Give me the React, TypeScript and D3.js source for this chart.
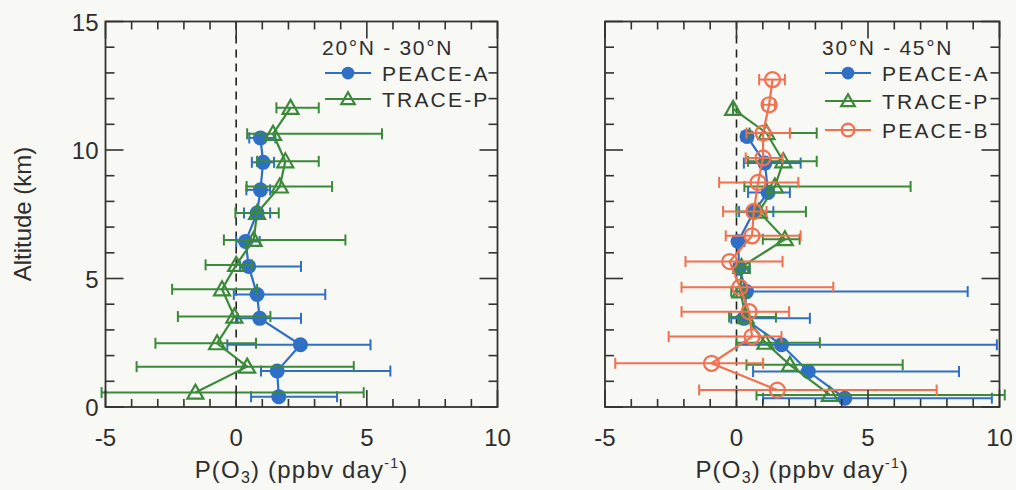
import React from "react";
import * as d3 from "d3";

// ---------- DATA ----------
// Left panel (20°N - 30°N)
const L_PA_ALT = [0.4, 1.4, 2.42, 3.45, 4.38, 5.47, 6.44, 7.55, 8.45, 9.52, 10.47];
const L_PA_VAL = [1.63, 1.57, 2.46, 0.9, 0.8, 0.48, 0.36, 0.8, 0.93, 1.03, 0.93];
const L_PA_LO = [0.57, 0.95, -0.34, 0.05, -0.09, 0.15, 0.0, 0.3, 0.39, 0.6, 0.5];
const L_PA_HI = [3.86, 5.9, 5.14, 2.48, 3.41, 2.48, 0.9, 1.3, 1.3, 1.45, 1.5];

const L_TP_ALT = [0.56, 1.57, 2.48, 3.52, 4.58, 5.53, 6.5, 7.55, 8.58, 9.56, 10.63, 11.64];
const L_TP_VAL = [-1.56, 0.42, -0.73, -0.07, -0.54, 0.0, 0.67, 0.8, 1.67, 1.88, 1.41, 2.08];
const L_TP_LO = [-5.15, -3.81, -3.09, -2.23, -2.45, -1.17, -0.47, -0.03, 0.4, 0.8, 0.42, 1.54];
const L_TP_HI = [4.88, 4.5, 0.76, 1.31, 0.8, 0.6, 4.18, 1.63, 3.67, 3.16, 5.58, 3.16];

// Right panel (30°N - 45°N)
const R_PA_ALT = [0.34, 1.38, 2.42, 3.45, 4.49, 5.4, 6.44, 7.6, 8.35, 9.49, 10.53];
const R_PA_VAL = [4.12, 2.73, 1.71, 0.28, 0.38, 0.1, 0.06, 0.66, 1.2, 1.08, 0.4];
const R_PA_LO = [1.01, 0.63, 0.0, -0.2, 0.0, -0.1, -0.1, 0.1, 0.44, 0.28, 0.2];
const R_PA_HI = [9.71, 8.46, 9.9, 2.79, 8.79, 0.5, 0.3, 1.4, 2.03, 2.44, 0.6];

const R_TP_ALT = [0.47, 1.64, 2.5, 3.5, 4.5, 5.45, 6.53, 7.6, 8.58, 9.56, 10.66, 11.6];
const R_TP_VAL = [3.55, 2.03, 1.1, 0.35, 0.15, 0.19, 1.84, 0.85, 1.46, 1.78, 1.14, -0.13];
const R_TP_LO = [0.76, 0.38, 0.0, -0.28, -0.2, 0.0, 1.0, 0.0, 0.3, 0.44, 0.5, -0.13];
const R_TP_HI = [10.2, 6.32, 3.17, 1.5, 0.35, 0.5, 2.4, 2.64, 6.62, 3.05, 3.05, -0.13];

const R_PB_ALT = [0.66, 1.7, 2.74, 3.71, 4.66, 5.66, 6.66, 7.61, 8.74, 9.69, 10.66, 11.76, 12.74];
const R_PB_VAL = [1.55, -0.95, 0.59, 0.48, 0.13, -0.26, 0.59, 0.66, 0.82, 1.01, 1.01, 1.24, 1.37];
const R_PB_LO = [-1.42, -4.61, -2.58, -2.09, -2.09, -1.94, -0.41, -0.51, -0.66, 0.35, 0.38, 1.01, 0.86];
const R_PB_HI = [7.61, 1.01, 1.71, 2.0, 3.68, 1.75, 2.44, 1.14, 2.35, 1.75, 2.03, 1.46, 1.84];

const X_TICKS = [-5, 0, 5, 10];
const Y_TICKS = [0, 5, 10, 15];
const LEFT_TITLE = "20°N - 30°N";
const RIGHT_TITLE = "30°N - 45°N";

// ---------- STYLE ----------
const BLUE = "#2f6fc6";
const GREEN = "#3b8a3a";
const ORANGE = "#f2704f";
const AXIS = "#333";
const TEXT = "#2e2e2e";
const FONT = "'Liberation Sans', Arial, Helvetica, sans-serif";

type Series = {
  name: string;
  alt: number[];
  val: number[];
  lo: number[];
  hi: number[];
  color: string;
  marker: "circleFilled" | "triangle" | "circleOpen";
};

const Marker = ({ type, x, y, color, size = 1 }: any) => {
  if (type === "circleFilled") return <circle cx={x} cy={y} r={7.5 * size} fill={color} />;
  if (type === "circleOpen")
    return <circle cx={x} cy={y} r={7.5 * size} fill="none" stroke={color} strokeWidth={2.2} />;
  const s = 8 * size;
  return (
    <path
      d={`M${x},${y - s}L${x + s},${y + s * 0.75}L${x - s},${y + s * 0.75}Z`}
      fill="none"
      stroke={color}
      strokeWidth={2.2}
    />
  );
};

const Panel = ({ x0, x1, y0, y1, series, title, legendX, legendRows, titleY, showYLabels }: any) => {
  const xs = d3.scaleLinear().domain([-5, 10]).range([x0, x1]);
  const ys = d3.scaleLinear().domain([0, 15]).range([y1, y0]);
  const minorX = d3.range(-5, 10.01, 1);
  const minorY = d3.range(0, 15.01, 1);
  const line = d3
    .line<[number, number]>()
    .x((d) => xs(d[0]))
    .y((d) => ys(d[1]));
  const cap = 5.5;
  return (
    <g>
      {/* zero dashed line */}
      <line x1={xs(0)} x2={xs(0)} y1={y0} y2={y1} stroke="#222" strokeWidth={1.6} strokeDasharray="8,6" />
      {/* series */}
      {series.map((s: Series, si: number) => (
        <g key={si}>
          {s.alt.map((a, i) => (
            <g key={i} stroke={s.color} strokeWidth={2}>
              <line x1={xs(s.lo[i])} x2={xs(s.hi[i])} y1={ys(a)} y2={ys(a)} />
              <line x1={xs(s.lo[i])} x2={xs(s.lo[i])} y1={ys(a) - cap} y2={ys(a) + cap} />
              <line x1={xs(s.hi[i])} x2={xs(s.hi[i])} y1={ys(a) - cap} y2={ys(a) + cap} />
            </g>
          ))}
          <path
            d={line(s.alt.map((a, i) => [s.val[i], a]) as [number, number][]) || ""}
            fill="none"
            stroke={s.color}
            strokeWidth={2.2}
          />
          {s.alt.map((a, i) => (
            <Marker key={i} type={s.marker} x={xs(s.val[i])} y={ys(a)} color={s.color} />
          ))}
        </g>
      ))}
      {/* frame */}
      <rect x={x0} y={y0} width={x1 - x0} height={y1 - y0} fill="none" stroke={AXIS} strokeWidth={1.8} />
      {/* ticks */}
      {minorX.map((v) => {
        const major = X_TICKS.includes(Math.round(v));
        const len = major ? 17 : 8;
        return (
          <g key={"x" + v} stroke={AXIS} strokeWidth={1.6}>
            <line x1={xs(v)} x2={xs(v)} y1={y1} y2={y1 - len} />
            <line x1={xs(v)} x2={xs(v)} y1={y0} y2={y0 + len} />
          </g>
        );
      })}
      {minorY.map((v) => {
        const major = Y_TICKS.includes(Math.round(v));
        const len = major ? 18 : 9;
        return (
          <g key={"y" + v} stroke={AXIS} strokeWidth={1.6}>
            <line x1={x0} x2={x0 + len} y1={ys(v)} y2={ys(v)} />
            <line x1={x1} x2={x1 - len} y1={ys(v)} y2={ys(v)} />
          </g>
        );
      })}
      {/* tick labels */}
      {X_TICKS.map((v) => (
        <text key={"xl" + v} x={xs(v)} y={y1 + 39} textAnchor="middle" fontSize={24} fill={TEXT} fontFamily={FONT}>
          {v}
        </text>
      ))}
      {showYLabels &&
        Y_TICKS.map((v) => (
          <text key={"yl" + v} x={x0 - 7} y={ys(v) + 9} textAnchor="end" fontSize={24} fill={TEXT} fontFamily={FONT}>
            {v}
          </text>
        ))}
      {/* x axis title */}
      <text
        x={(x0 + x1) / 2}
        y={y1 + 71}
        textAnchor="middle"
        fontSize={24}
        letterSpacing={1.2}
        fill={TEXT}
        fontFamily={FONT}
      >
        P(O
        <tspan fontSize={16} dy={5}>3</tspan>
        <tspan dy={-5}>) (ppbv day</tspan>
        <tspan fontSize={14} dy={-10}>-1</tspan>
        <tspan dy={10}>)</tspan>
      </text>
      {/* legend */}
      <text x={legendX - 3} y={titleY} fontSize={21} letterSpacing={1.7} fill={TEXT} fontFamily={FONT}>
        {title}
      </text>
      {series.map((s: Series, i: number) => (
        <g key={"lg" + i}>
          <line x1={legendX} x2={legendX + 46} y1={legendRows[i]} y2={legendRows[i]} stroke={s.color} strokeWidth={2.2} />
          <Marker type={s.marker} x={legendX + 23} y={legendRows[i]} color={s.color} size={0.85} />
          <text
            x={legendX + 57}
            y={legendRows[i] + 8}
            fontSize={21}
            letterSpacing={2.2}
            fill={TEXT}
            fontFamily={FONT}
          >
            {s.name}
          </text>
        </g>
      ))}
    </g>
  );
};

export default function App() {
  const leftSeries: Series[] = [
    { name: "PEACE-A", alt: L_PA_ALT, val: L_PA_VAL, lo: L_PA_LO, hi: L_PA_HI, color: BLUE, marker: "circleFilled" },
    { name: "TRACE-P", alt: L_TP_ALT, val: L_TP_VAL, lo: L_TP_LO, hi: L_TP_HI, color: GREEN, marker: "triangle" },
  ];
  const rightSeries: Series[] = [
    { name: "PEACE-A", alt: R_PA_ALT, val: R_PA_VAL, lo: R_PA_LO, hi: R_PA_HI, color: BLUE, marker: "circleFilled" },
    { name: "TRACE-P", alt: R_TP_ALT, val: R_TP_VAL, lo: R_TP_LO, hi: R_TP_HI, color: GREEN, marker: "triangle" },
    { name: "PEACE-B", alt: R_PB_ALT, val: R_PB_VAL, lo: R_PB_LO, hi: R_PB_HI, color: ORANGE, marker: "circleOpen" },
  ];
  return (
    <svg
      width={1016}
      height={490}
      style={{ position: "absolute", left: 0, top: 0, background: "#f8f8f4" }}
      fontFamily={FONT}
    >
      <rect x={0} y={0} width={1016} height={490} fill="#f8f8f4" />
      <Panel
        x0={105.5}
        x1={497.5}
        y0={21.5}
        y1={407}
        series={leftSeries}
        title={LEFT_TITLE}
        legendX={325}
        legendRows={[73, 99]}
        titleY={55}
        showYLabels={true}
      />
      <Panel
        x0={605}
        x1={999.5}
        y0={21.5}
        y1={407}
        series={rightSeries}
        title={RIGHT_TITLE}
        legendX={825}
        legendRows={[73, 101, 130]}
        titleY={55}
        showYLabels={false}
      />
      <text
        transform="translate(31,214) rotate(-90)"
        textAnchor="middle"
        fontSize={24}
        fill={TEXT}
        fontFamily={FONT}
      >
        Altitude (km)
      </text>
    </svg>
  );
}
